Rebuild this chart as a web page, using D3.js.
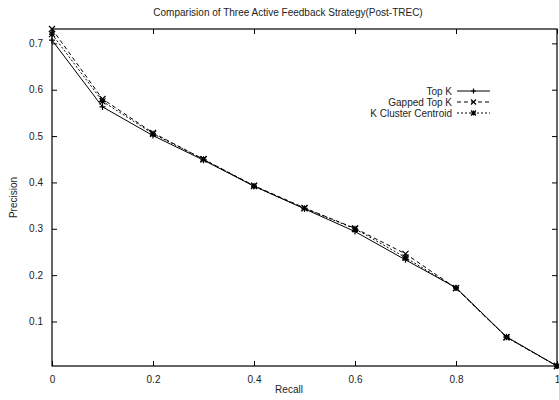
<!doctype html>
<html lang="en">
  <head>
    <meta charset="utf-8">
    <title>Comparision of Three Active Feedback Strategy</title>
    <style>
      body { margin: 0; background: #fff; }
      text { font-family: "Liberation Sans", Arial, sans-serif; fill: #222; }
    </style>
  </head>
  <body>
    <div id="chart"></div>
    <script src="https://d3js.org/d3.v7.min.js"></script>
    <script>
    // recall levels
    var recall = [0, 0.1, 0.2, 0.3, 0.4, 0.5, 0.6, 0.7, 0.8, 0.9, 1.0];

    // precision per strategy
    var topK = [0.707, 0.563, 0.501, 0.448, 0.392, 0.343, 0.294, 0.233, 0.173, 0.067, 0.004];
    var gappedTopK = [0.731, 0.580, 0.507, 0.450, 0.393, 0.345, 0.301, 0.246, 0.172, 0.066, 0.004];
    var kCluster = [0.720, 0.575, 0.505, 0.450, 0.392, 0.344, 0.300, 0.238, 0.172, 0.066, 0.004];

    var seriesNames = ["Top K", "Gapped Top K", "K Cluster Centroid"];
    var xTicks = [0, 0.2, 0.4, 0.6, 0.8, 1];
    var yTicks = [0.1, 0.2, 0.3, 0.4, 0.5, 0.6, 0.7];

    var width = 559, height = 400;
    var margin = {top: 29, right: 2, bottom: 34, left: 52};

    var svg = d3.select("#chart")
        .append("svg")
        .attr("width", width)
        .attr("height", height);

    var series = [
      {name: seriesNames[0], values: topK, dash: null, marker: "plus"},
      {name: seriesNames[1], values: gappedTopK, dash: "4,3", marker: "cross"},
      {name: seriesNames[2], values: kCluster, dash: "2,2", marker: "star"}
    ];

    var all = topK.concat(gappedTopK, kCluster);

    var x = d3.scaleLinear()
        .domain([0, 1])
        .range([margin.left, width - margin.right]);

    var y = d3.scaleLinear()
        .domain(d3.extent(all))
        .range([height - margin.bottom, margin.top]);

    // ticks on all four sides, pointing inward
    svg.append("g")
      .attr("transform", "translate(0," + (height - margin.bottom) + ")")
      .call(d3.axisBottom(x).tickValues(xTicks).tickSizeInner(-5).tickSizeOuter(0).tickPadding(10).tickFormat(d3.format("")));

    svg.append("g")
      .attr("transform", "translate(0," + margin.top + ")")
      .call(d3.axisTop(x).tickValues(xTicks).tickSizeInner(-5).tickSizeOuter(0).tickFormat(""));

    svg.append("g")
      .attr("transform", "translate(" + margin.left + ",0)")
      .call(d3.axisLeft(y).tickValues(yTicks).tickSizeInner(-5).tickSizeOuter(0).tickPadding(9).tickFormat(d3.format("")));

    svg.append("g")
      .attr("transform", "translate(" + (width - margin.right) + ",0)")
      .call(d3.axisRight(y).tickValues(yTicks).tickSizeInner(-5).tickSizeOuter(0).tickFormat(""));

    svg.selectAll(".domain").remove();
    svg.selectAll(".tick line").attr("stroke", "#000");
    svg.selectAll(".tick text").attr("font-size", 10).style("fill", "#222");

    // frame
    svg.append("rect")
      .attr("x", margin.left)
      .attr("y", margin.top)
      .attr("width", width - margin.left - margin.right)
      .attr("height", height - margin.top - margin.bottom)
      .attr("fill", "none")
      .attr("stroke", "#000")
      .attr("stroke-width", 1.2);

    var line = d3.line()
      .x(function(d, i){ return x(recall[i]); })
      .y(function(d){ return y(d); });

    function drawMarker(g, kind, cx, cy, s) {
      var p = d3.path();
      if (kind == "plus" || kind == "star") {
        p.moveTo(cx - s, cy); p.lineTo(cx + s, cy);
        p.moveTo(cx, cy - s); p.lineTo(cx, cy + s);
      }
      if (kind == "cross" || kind == "star") {
        p.moveTo(cx - s, cy - s); p.lineTo(cx + s, cy + s);
        p.moveTo(cx - s, cy + s); p.lineTo(cx + s, cy - s);
      }
      g.append("path").attr("d", p.toString()).attr("stroke", "#000").attr("stroke-width", 1.2).attr("fill", "none");
    }

    series.forEach(function(s) {
      svg.append("path")
        .datum(s.values)
        .attr("d", line)
        .attr("fill", "none")
        .attr("stroke", "#000")
        .attr("stroke-width", 1)
        .attr("stroke-dasharray", s.dash);
      var g = svg.append("g");
      s.values.forEach(function(v, i) {
        drawMarker(g, s.marker, x(recall[i]), y(v), 3);
      });
    });

    // legend
    var legend = svg.append("g");
    series.forEach(function(s, i) {
      var ly = 91 + i * 11;
      legend.append("text")
        .attr("x", 452)
        .attr("y", ly + 3.5)
        .attr("text-anchor", "end")
        .attr("font-size", 10)
        .text(s.name);
      legend.append("line")
        .attr("x1", 457).attr("x2", 490)
        .attr("y1", ly).attr("y2", ly)
        .attr("stroke", "#000")
        .attr("stroke-dasharray", s.dash);
      drawMarker(legend, s.marker, 473.5, ly, 2.5);
    });

    // titles
    svg.append("text")
      .attr("x", 288)
      .attr("y", 16)
      .attr("text-anchor", "middle")
      .attr("font-size", 10)
      .text("Comparision of Three Active Feedback Strategy(Post-TREC)");

    svg.append("text")
      .attr("x", 289)
      .attr("y", 393)
      .attr("text-anchor", "middle")
      .attr("font-size", 10)
      .text("Recall");

    svg.append("text")
      .attr("transform", "translate(17," + ((margin.top + height - margin.bottom) / 2) + ") rotate(-90)")
      .attr("text-anchor", "middle")
      .attr("font-size", 10)
      .text("Precision");
    </script>
  </body>
</html>
